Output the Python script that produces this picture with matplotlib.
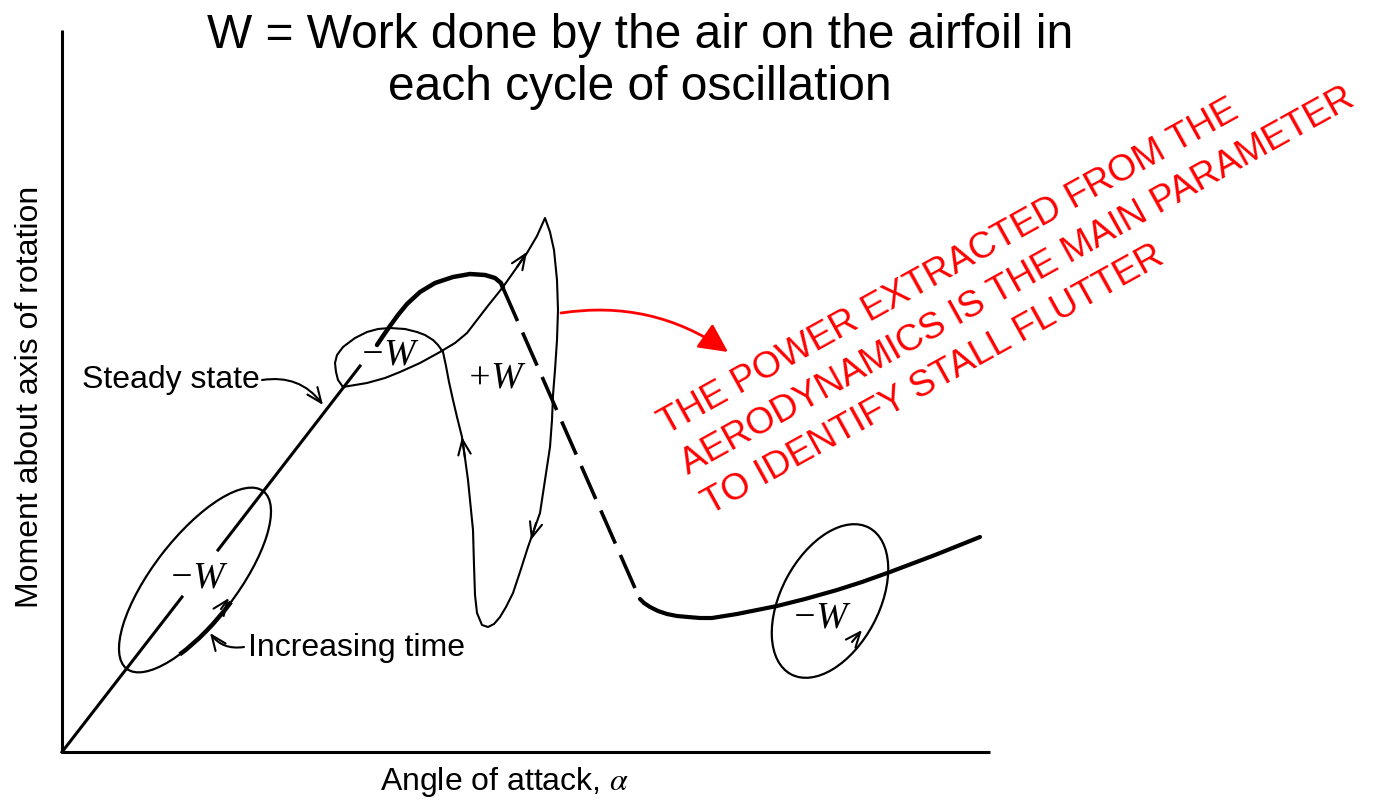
import numpy as np
import matplotlib.pyplot as plt
from matplotlib.patches import Ellipse, Arc, FancyArrowPatch

plt.rcParams['lines.scale_dashes'] = False
plt.rcParams['mathtext.fontset'] = 'stix'

LABEL_FONT = ['Liberation Sans', 'DejaVu Sans']

# everything below is in page units: x to the right, y downwards
axis_x = [62, 62, 990]
axis_y = [30, 752, 752]

# steady state line, broken where the lower -W sits
steady_x = [62, 182, np.nan, 218, 360]
steady_y = [752, 597, np.nan, 550, 366]

# oscillation loop around the stall: small -W loop and big +W loop
loop_x = [343, 367, 385, 400, 420, 440, 455, 467, 487, 503, 515, 527, 537, 545,
          550, 554, 557, 558, 557, 555, 553, 552, 550, 545, 540, 528, 520, 513,
          506, 500, 494, 488, 482, 477, 475, 474, 473, 470, 468, 465, 462, 457,
          453, 449, 446, 443, 438, 433, 425, 417, 405, 390, 378, 367, 355, 343,
          337, 335, 336, 338, 343]
loop_y = [387, 383, 378, 372, 363, 352, 343, 333, 307, 287, 270, 253, 236, 218,
          232, 250, 280, 310, 340, 370, 395, 420, 447, 480, 513, 547, 572, 593,
          607, 617, 624, 627, 625, 613, 595, 565, 530, 500, 480, 458, 437, 417,
          400, 382, 366, 352, 345, 340, 335, 332, 329, 328, 329, 332, 338, 347,
          355, 363, 372, 380, 387]

# static moment curve: bold top, dashed stall drop, post-stall branch
mean_x = [377, 383, 390, 398, 407, 420, 435, 453, 470, 485, 495, 501, 503]
mean_y = [345, 336, 326, 315, 304, 292, 283, 277, 274, 275, 278, 283, 288]
drop_x = [503, 638]
drop_y = [288, 595]
post_x = [640, 644, 650, 658, 667, 677, 688, 700, 712, 737, 777, 805, 837,
          862, 890, 935, 980]
post_y = [599, 603, 607, 611, 614, 616, 617, 618, 618, 614, 606, 599, 590,
          582, 572, 555, 537]

# small cycles: centre x, centre y, width, height, tilt
low_cycle = (195, 580, 224, 84, -52.4)
high_cycle = (830, 601, 166, 98, -62)

# arrows showing the direction of travel: (tail, head)
loop_arrows = [((517, 267), (527, 252)),
               ((536, 523), (531, 540)),
               ((465, 458), (462, 437)),
               ((221, 609), (229, 598)),
               ((852, 642), (862, 630))]

note_lines = ['THE POWER EXTRACTED FROM THE',
              'AERODYNAMICS IS THE MAIN PARAMETER',
              'TO IDENTIFY STALL FLUTTER']

fig = plt.figure(figsize=(13.77, 8.02), dpi=100)
ax = fig.add_axes([0, 0, 1, 1])
ax.set_xlim(0, 1377)
ax.set_ylim(802, 0)
ax.axis('off')

ax.plot(axis_x, axis_y, color='black', lw=2.2, solid_capstyle='butt')
ax.plot(steady_x, steady_y, color='black', lw=2.2)
ax.plot(loop_x, loop_y, color='black', lw=1.5, solid_joinstyle='round')
ax.plot(mean_x, mean_y, color='black', lw=3.2, solid_capstyle='round')
ax.plot(drop_x, drop_y, color='black', lw=2.6, dashes=(26, 9))
ax.plot(post_x, post_y, color='black', lw=3.0, solid_capstyle='round')

for cx, cy, w, h, ang in [low_cycle, high_cycle]:
    ax.add_patch(Ellipse((cx, cy), w, h, angle=ang, fill=False,
                         edgecolor='black', lw=1.6))
# bold stretch of the low cycle next to "Increasing time"
ax.add_patch(Arc(low_cycle[:2], low_cycle[2], low_cycle[3], angle=low_cycle[4],
                 theta1=84, theta2=154, edgecolor='black', lw=3.2))

for tail, head in loop_arrows:
    ax.annotate('', xy=head, xytext=tail,
                arrowprops=dict(arrowstyle='->,head_length=0.6,head_width=0.25',
                                lw=1.5, color='black', mutation_scale=18,
                                shrinkA=0, shrinkB=0))

# W labels
wfont = dict(family='Liberation Serif', style='italic', fontsize=27,
             ha='center', va='center')
ax.text(197, 578, '\u2212W', **wfont)
ax.text(388, 355, '\u2212W', **wfont)
ax.text(495, 378, '+W', **wfont)
ax.text(820, 618, '\u2212W', **wfont)

# pointer labels
ax.text(82, 380, 'Steady state', family=LABEL_FONT, fontsize=23,
        ha='left', va='center')
ax.annotate('', xy=(323, 405), xytext=(262, 380),
            arrowprops=dict(arrowstyle='->,head_length=0.6,head_width=0.25',
                            lw=1.5, color='black', mutation_scale=18,
                            connectionstyle='arc3,rad=-0.3',
                            shrinkA=0, shrinkB=0))
ax.text(248, 648, 'Increasing time', family=LABEL_FONT, fontsize=23,
        ha='left', va='center')
ax.annotate('', xy=(210, 633), xytext=(244, 647),
            arrowprops=dict(arrowstyle='->,head_length=0.6,head_width=0.25',
                            lw=1.5, color='black', mutation_scale=18,
                            connectionstyle='arc3,rad=-0.3',
                            shrinkA=0, shrinkB=0))

# axis titles
ax.text(30, 397, 'Moment about axis of rotation', family=LABEL_FONT,
        fontsize=23, rotation=90, ha='center', va='center')
ax.text(505, 782, r'Angle of attack, $\alpha$', family=LABEL_FONT,
        fontsize=23, ha='center', va='center')

# heading
ax.text(640, 62, 'W = Work done by the air on the airfoil in\neach cycle of oscillation',
        family='Liberation Sans', fontsize=34.5, ha='center', va='center',
        linespacing=1.2)

# red note, one text per line so each box stays tight, and its pointer
note_starts = [(666, 435), (688, 475), (710, 515)]
for line, (sx, sy) in zip(note_lines, note_starts):
    ax.text(sx, sy, line, family='Liberation Sans', fontsize=26.5, color='red',
            rotation=29, rotation_mode='anchor', ha='left', va='baseline')
ax.add_patch(FancyArrowPatch((561, 313), (728, 352),
                             arrowstyle='-|>,head_length=0.8,head_width=0.4',
                             connectionstyle='arc3,rad=-0.2', mutation_scale=22,
                             color='red', lw=2.0, shrinkA=0, shrinkB=0))

fig.savefig('out.png', dpi=100)
